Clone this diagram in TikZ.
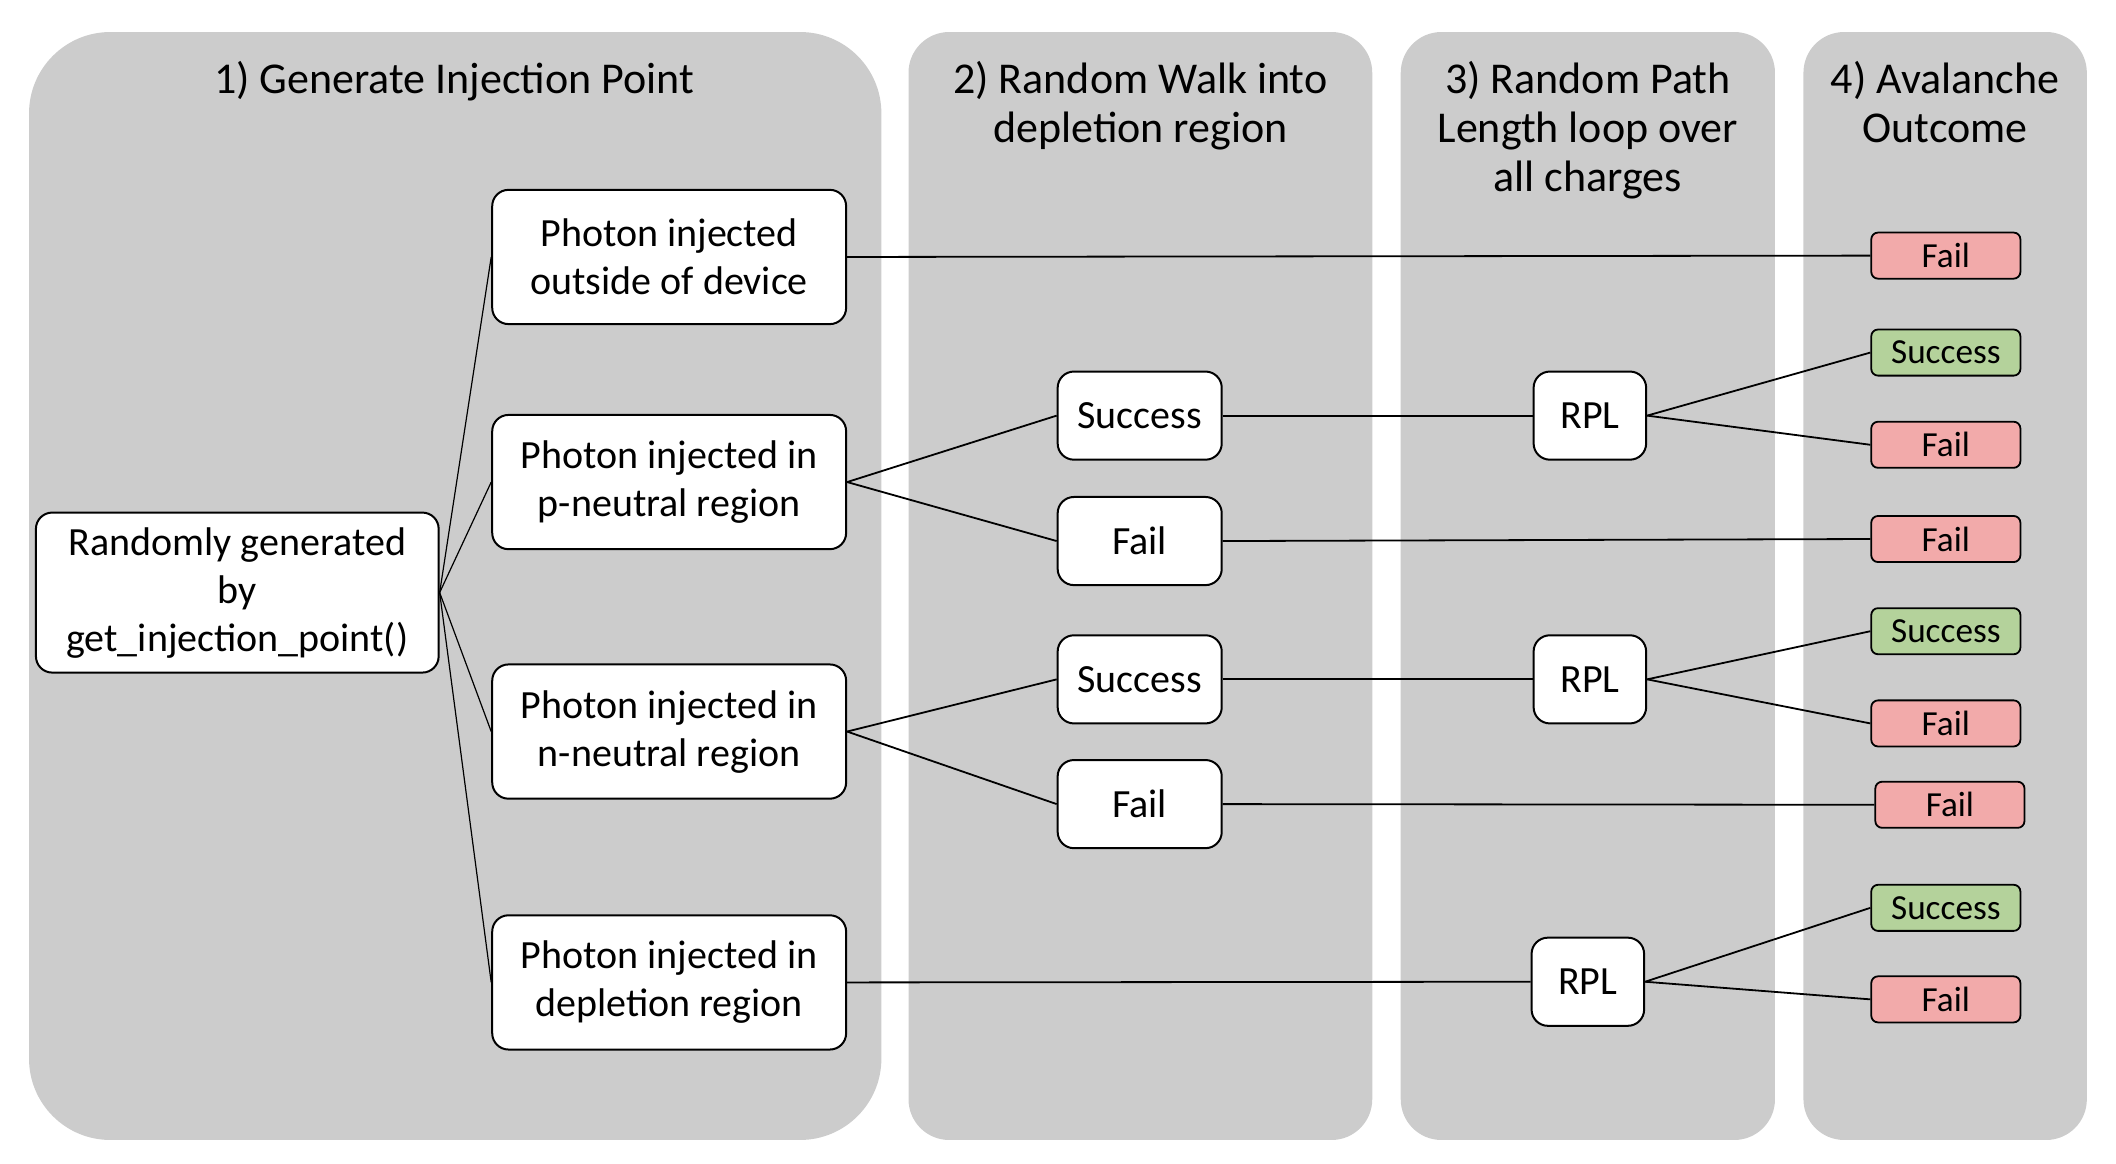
\documentclass[tikz,border=0pt]{standalone}
\usepackage{fontspec}
\setmainfont{Carlito}
\newdimen\ux \ux=0.678pt
\definecolor{panelgray}{RGB}{204,204,204}
\definecolor{failred}{RGB}{242,170,170}
\definecolor{succgreen}{RGB}{180,210,155}
\begin{document}
\begin{tikzpicture}[x=0.678pt, y=-0.678pt,
  paneltitle/.style={font=\fontsize{22}{24.4}\selectfont, align=center, inner sep=0, anchor=north},
  box/.style={draw=black, line width=1pt, fill=white, rounded corners=12\ux, align=center,
              font=\fontsize{20}{24}\selectfont, inner sep=0},
  bigbox/.style={box, minimum width=261\ux, minimum height=99\ux},
  midbox/.style={box, minimum width=121\ux, minimum height=65\ux},
  rplbox/.style={box, minimum width=83\ux, minimum height=65\ux},
  outbox/.style={draw=black, line width=0.9pt, rounded corners=5\ux, minimum width=110\ux,
                 minimum height=34\ux, inner sep=0, font=\fontsize{17.6}{20}\selectfont},
  failbox/.style={outbox, fill=failred},
  succbox/.style={outbox, fill=succgreen},
  conn/.style={line width=0.9pt},
  fan/.style={line width=0.6pt}]
\useasboundingbox (0,0) rectangle (1560.5,858.4);
% panels
\fill[panelgray, rounded corners=60\ux] (21.4,23.6) rectangle (650,840.7);
\fill[panelgray, rounded corners=30\ux] (670,23.6) rectangle (1012,840.7);
\fill[panelgray, rounded corners=30\ux] (1033,23.6) rectangle (1309,840.7);
\fill[panelgray, rounded corners=30\ux] (1330,23.6) rectangle (1539,840.7);
% titles
\node[paneltitle] (t1) at (335,45) {1) Generate Injection Point};
\node[paneltitle] (t2) at (841,45) {2) Random Walk into\\depletion region};
\node[paneltitle] (t3) at (1171,45) {3) Random Path\\Length loop over\\all charges};
\node[paneltitle] (t4) at (1434.5,45) {4) Avalanche\\Outcome};
% nodes
\node[box, minimum width=297\ux, minimum height=118\ux] (root) at (175,437)
  {Randomly generated\\by\\get\_injection\_point()};
\node[bigbox] (p1) at (493.5,189.5) {Photon injected\\outside of device};
\node[bigbox] (p2) at (493.5,355.5) {Photon injected in\\p-neutral region};
\node[bigbox] (p3) at (493.5,539.5) {Photon injected in\\n-neutral region};
\node[bigbox] (p4) at (493.5,724.5) {Photon injected in\\depletion region};
\node[midbox] (s1) at (840.5,306.5) {Success};
\node[midbox] (f1) at (840.5,399) {Fail};
\node[midbox] (s2) at (840.5,501) {Success};
\node[midbox] (f2) at (840.5,593) {Fail};
\node[rplbox] (r1) at (1172.5,306.5) {RPL};
\node[rplbox] (r2) at (1172.5,501) {RPL};
\node[rplbox] (r3) at (1171,724) {RPL};
\node[failbox] (o1) at (1435,188.5) {Fail};
\node[succbox] (o2) at (1435,260) {Success};
\node[failbox] (o3) at (1435,328) {Fail};
\node[failbox] (o4) at (1435,397.5) {Fail};
\node[succbox] (o5) at (1435,465.5) {Success};
\node[failbox] (o6) at (1435,533.5) {Fail};
\node[failbox] (o7) at (1438,593.5) {Fail};
\node[succbox] (o8) at (1435,669.5) {Success};
\node[failbox] (o9) at (1435,737) {Fail};
% connectors
\draw[fan] (root.east) -- (p1.west);
\draw[fan] (root.east) -- (p2.west);
\draw[fan] (root.east) -- (p3.west);
\draw[fan] (root.east) -- (p4.west);
\draw[conn] (p1.east) -- (o1.west);
\draw[conn] (p2.east) -- (s1.west);
\draw[conn] (p2.east) -- (f1.west);
\draw[conn] (s1.east) -- (r1.west);
\draw[conn] (r1.east) -- (o2.west);
\draw[conn] (r1.east) -- (o3.west);
\draw[conn] (f1.east) -- (o4.west);
\draw[conn] (p3.east) -- (s2.west);
\draw[conn] (p3.east) -- (f2.west);
\draw[conn] (s2.east) -- (r2.west);
\draw[conn] (r2.east) -- (o5.west);
\draw[conn] (r2.east) -- (o6.west);
\draw[conn] (f2.east) -- (o7.west);
\draw[conn] (p4.east) -- (r3.west);
\draw[conn] (r3.east) -- (o8.west);
\draw[conn] (r3.east) -- (o9.west);
\end{tikzpicture}
\end{document}
